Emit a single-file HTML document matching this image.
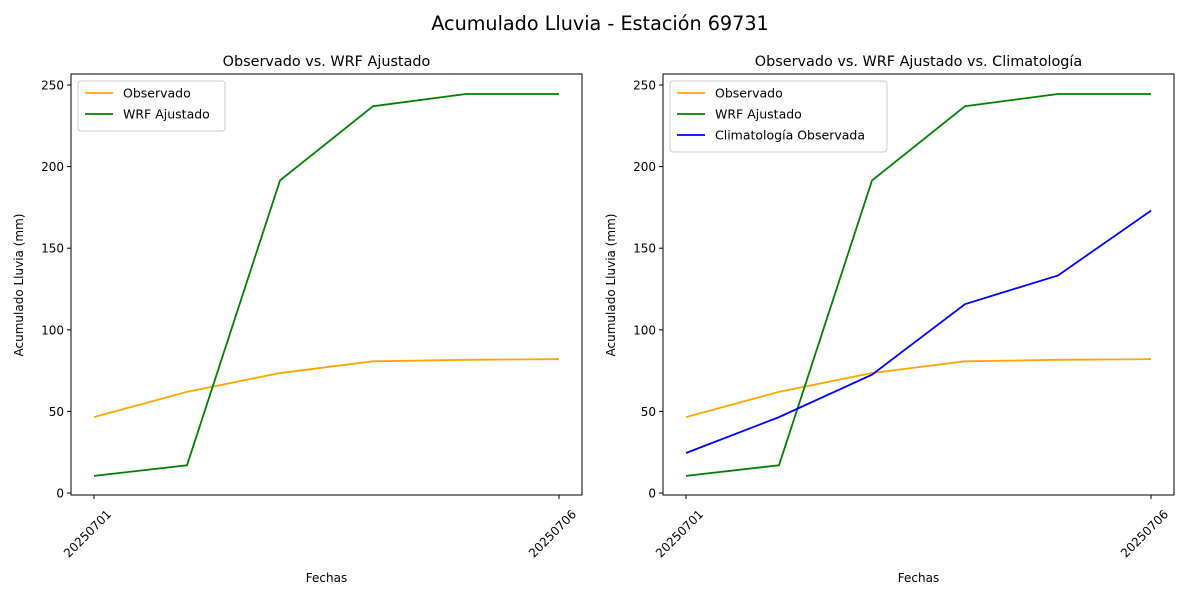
<!DOCTYPE html>
<html><head><meta charset="utf-8"><style>
body{margin:0;background:#fff;}
svg{display:block;font-family:"DejaVu Sans","Liberation Sans",sans-serif;}
</style></head><body>
<svg id="c" width="1200" height="600" viewBox="0 0 1200 600">
<text x="600" y="30" font-size="19.2" text-anchor="middle">Acumulado Lluvia - Estación 69731</text>
</svg>
<script>
const dates = ["20250701","20250702","20250703","20250704","20250705","20250706"];
const tickDates = ["20250701","20250706"];
const yTicks = [0,50,100,150,200,250];
const observado = [46.5,62,73.5,80.7,81.6,82];
const wrfAjustado = [10.5,17,191.5,237,244.5,244.5];
const climatologia = [24.5,46.5,72.5,115.7,133.3,173];

const svg = document.getElementById('c');
const NS = "http://www.w3.org/2000/svg";
function mk(tag, attrs, parent){const e=document.createElementNS(NS,tag);for(const k in attrs)e.setAttribute(k,attrs[k]);(parent||svg).appendChild(e);return e;}

function panel(x0, x1, title, series, legendW, idx){
  const g = mk('g',{});
  
  
  const top=74, bot=495;
  const xs = i => (x0+23) + i*(x1-x0-46)/(dates.length-1);
  const ys = v => 493 - v*81.6/50;
  const t = mk('text',{x:(x0+x1)/2,y:66,'font-size':14.4,'text-anchor':'middle'},g);
  t.textContent = title;
  
  
  yTicks.forEach(v=>{
    const y=ys(v);
    const l=mk('line',{x1:x0-4,x2:x0,y1:y,y2:y,stroke:'#000','stroke-width':1},g);
    
    
    const tt=mk('text',{x:x0-7,y:y+4.5,'font-size':12,'text-anchor':'end'},g);
    tt.textContent=v;
    
    
  });
  tickDates.forEach(d=>{
    const x=xs(dates.indexOf(d));
    const l=mk('line',{x1:x,x2:x,y1:bot,y2:bot+4,stroke:'#000','stroke-width':1},g);
    
    
    const ax=x+18, ay=bot+20;
    const tt=mk('text',{x:ax,y:ay,'font-size':12,'text-anchor':'end',transform:`rotate(-45 ${ax} ${ay})`},g);
    tt.textContent=d;
    
    
  });
  const xl=mk('text',{x:(x0+x1)/2,y:582,'font-size':12,'text-anchor':'middle'},g);
  xl.textContent='Fechas';
  
  
  const yl=mk('text',{x:x0-48,y:285,'font-size':12,'text-anchor':'middle',transform:`rotate(-90 ${x0-48} 285)`},g);
  yl.textContent='Acumulado Lluvia (mm)';
  
  
  series.forEach(s=>{
    const p=mk('polyline',{points:s.data.map((v,i)=>xs(i)+','+ys(v)).join(' '),fill:'none',stroke:s.color,'stroke-width':1.8},g);
    
    
  });
  const fr=mk('rect',{x:x0,y:top,width:x1-x0,height:bot-top,fill:'none',stroke:'#000','stroke-width':1},g);
  
  
  const lg=mk('g',{},g);
  
  
  mk('rect',{x:x0+7,y:81,width:legendW,height:8+series.length*21,fill:'#fff',stroke:'#ccc',rx:3},lg);
  series.forEach((s,i)=>{
    const y=93+i*21;
    const e=mk('g',{},lg);
    
    
    mk('line',{x1:x0+14,x2:x0+42,y1:y,y2:y,stroke:s.color,'stroke-width':1.8},e);
    const tt=mk('text',{x:x0+52,y:y+4.5,'font-size':12.5},e);
    tt.textContent=s.name;
  });
}
const sO={key:'observado',name:'Observado',color:'orange',data:observado};
const sW={key:'wrf',name:'WRF Ajustado',color:'green',data:wrfAjustado};
const sC={key:'climatologia',name:'Climatología Observada',color:'blue',data:climatologia};
panel(71,582,'Observado vs. WRF Ajustado',[sO,sW],147,1);
panel(663,1174,'Observado vs. WRF Ajustado vs. Climatología',[sO,sW,sC],217,2);
</script>
</body></html>
